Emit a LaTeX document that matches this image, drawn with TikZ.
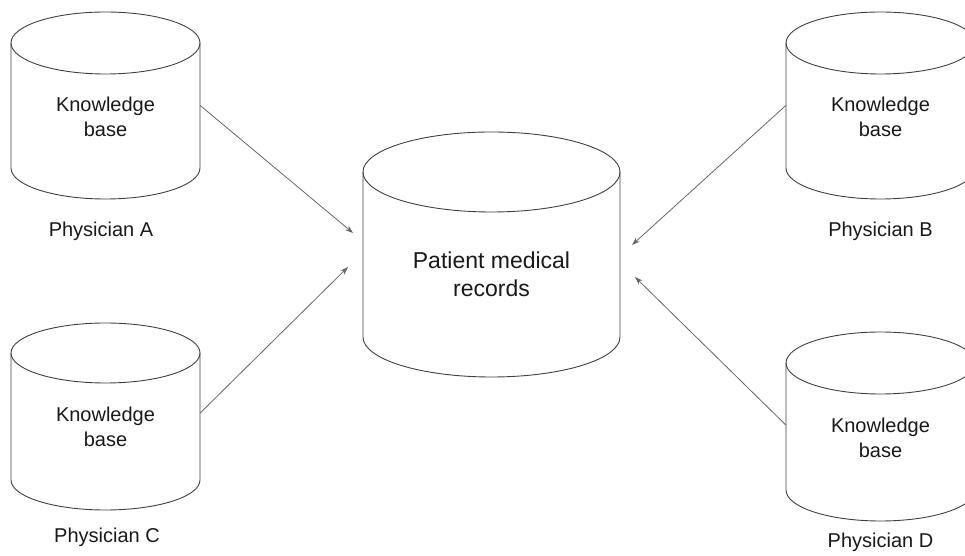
\documentclass[tikz,border=0pt]{standalone}
\usepackage{fontspec}
\setmainfont{Liberation Sans}
\usetikzlibrary{arrows.meta}
\tikzset{
  cylline/.style={draw=black!75, line width=0.9pt},
  bodybox/.style={rectangle, inner sep=0pt, draw=none},
  kbtext/.style={align=center, font=\fontsize{20}{25}\selectfont, text=black!90},
  pmtext/.style={align=center, font=\fontsize{23}{28}\selectfont, text=black!90},
  physlabel/.style={font=\fontsize{20}{24}\selectfont, text=black!90},
  link/.style={draw=black!60, line width=0.8pt, -{Stealth[length=8pt,width=5.5pt]}}
}
% cylinder: name, cx, top center y, bottom center y, width, ry
\newcommand{\drawcyl}[6]{%
  \node[bodybox, minimum width={#5*1pt}, minimum height={(#3-#4)*1pt}] (#1) at (#2, {(#3+#4)/2}) {};
  \draw[cylline] ({#2-#5/2}, #3) -- ({#2-#5/2}, #4)
    arc[start angle=180, end angle=360, x radius={#5/2}, y radius=#6]
    -- ({#2+#5/2}, #3);
  \draw[cylline] (#2, #3) ellipse[x radius={#5/2}, y radius=#6];
}
\begin{document}
\begin{tikzpicture}[x=1pt, y=1pt]
\useasboundingbox (0,0) rectangle (965,556);
\clip (0,0) rectangle (965,556);
\drawcyl{A}{105.5}{513}{388}{189}{31}
\drawcyl{B}{880.5}{513}{388}{189}{31}
\drawcyl{C}{105.5}{203}{76}{189}{30}
\drawcyl{D}{880.5}{193}{66}{189}{31}
\drawcyl{P}{491.5}{384}{219}{257}{40}

\node[kbtext] (tA) at (105.5, 439.5) {Knowledge\\base};
\node[kbtext] (tB) at (880.5, 439.5) {Knowledge\\base};
\node[kbtext] (tC) at (105.5, 129.5) {Knowledge\\base};
\node[kbtext] (tD) at (880.5, 118.5) {Knowledge\\base};
\node[pmtext] (tP) at (491.5, 282) {Patient medical\\records};

\node[physlabel] (lA) at (101, 325) {Physician A};
\node[physlabel] (lB) at (880.5, 325) {Physician B};
\node[physlabel] (lC) at (107, 19) {Physician C};
\node[physlabel] (lD) at (880.5, 14) {Physician D};

\coordinate (eA) at (353, 323);
\coordinate (eC) at (348, 289);
\coordinate (eB) at (632, 311);
\coordinate (eD) at (635, 279);

\draw[link] (A.east) -- (eA);
\draw[link] ([yshift=3.5pt]C.east) -- (eC);
\draw[link] (B.west) -- (eB);
\draw[link] ([yshift=1.5pt]D.west) -- (eD);
\end{tikzpicture}
\end{document}
